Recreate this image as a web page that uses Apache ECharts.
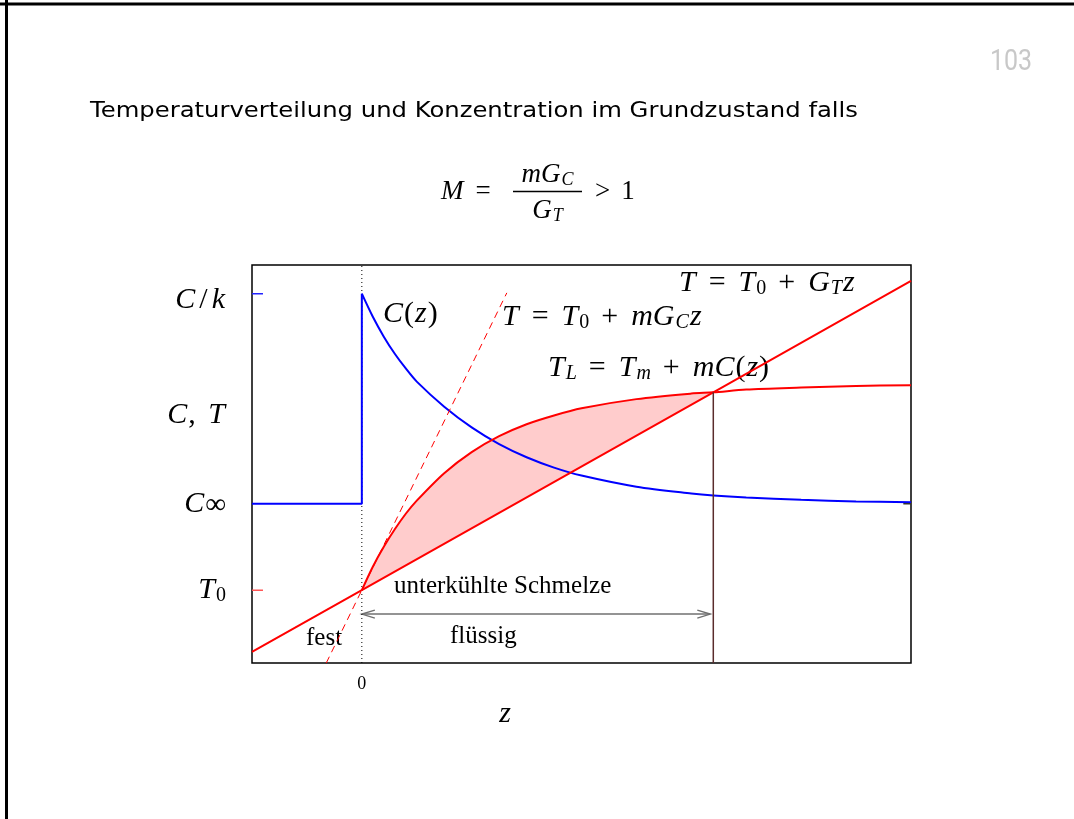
<!DOCTYPE html>
<html>
<head>
<meta charset="utf-8">
<script src="https://cdn.jsdelivr.net/npm/echarts@6/dist/echarts.min.js"></script>
<style>
  html, body { margin: 0; padding: 0; background: #fff; }
  #chart { width: 1074px; height: 819px; }
</style>
</head>
<body>
<div id="chart"></div>
<script>
// Axis ranges (arbitrary units for z and for C, T)
const zRange = [-1, 5];
const yRange = [0, 10];

// Concentration C(z): constant in the solid, jump to C/k at the interface, decay in the melt
const zSolid = [-1, 0, 0];
const cSolid = [4.0, 4.0, 9.28];
const zLiquid = [0, 0.1, 0.2, 0.3, 0.4, 0.5, 0.75, 1, 1.25, 1.5, 1.75, 2, 2.5, 3, 3.2, 3.5, 4, 4.5, 5];
const cLiquid = [9.28, 8.70, 8.20, 7.77, 7.40, 7.07, 6.44, 5.92, 5.50, 5.17, 4.91, 4.71, 4.43, 4.26, 4.21, 4.16, 4.10, 4.06, 4.04];

// Liquidus temperature T_L = T_m + m C(z)
const tLiquidus = [1.83, 2.42, 2.92, 3.36, 3.75, 4.08, 4.77, 5.30, 5.70, 6.00, 6.22, 6.40, 6.63, 6.77, 6.80, 6.87, 6.92, 6.96, 6.98];

// Imposed temperature T = T0 + G_T z
const zGradT = [-1, 0, 3.2, 5];
const tGradT = [0.28, 1.83, 6.80, 9.60];

// Critical gradient T = T0 + m G_C z
const zGradC = [-0.324, 1.32];
const tGradC = [0, 9.30];

// Edge of the undercooled zone and the arrow spanning it
const zFront = [3.2, 3.2];
const tFront = [0, 6.80];
const zArrow = [0, 3.2];
const arrowLevel = 1.23;

// Tick marks and axis labels
const T0 = 1.83, C_INF = 4.0, C_K = 9.28;
const yLabelValues = [1.83, 4.0, 6.23, 9.12];
const yLabelTexts = ['{i|T}{s0|0}', '{i|C}{inf|∞}', '{i|C}{r|,}{sp| }{i|T}', '{i|C}{sl|/}{i|k}'];
const xLabelValues = [0];
const xLabelTexts = ['0'];

const pairs = (xs, ys) => xs.map((x, i) => [x, ys[i]]);

const serif = '"Liberation Serif", "DejaVu Serif", serif';
function mathRich(size) {
  const sub = Math.round(size * 0.68);
  const pad = Math.round(size * 0.4);
  return {
    i:   { fontFamily: serif, fontStyle: 'italic', fontSize: size, lineHeight: size + 2, color: '#000', padding: [0, 1, 0, 1] },
    r:   { fontFamily: serif, fontSize: size, lineHeight: size + 2, color: '#000' },
    sp:  { fontFamily: serif, fontSize: size, lineHeight: size + 2, color: '#000', padding: [0, 4, 0, 0] },
    sl:  { fontFamily: serif, fontSize: size, lineHeight: size + 2, color: '#000', padding: [0, 3, 0, 3] },
    op:  { fontFamily: serif, fontSize: size, lineHeight: size + 2, color: '#000', padding: [0, pad, 0, pad] },
    s:   { fontFamily: serif, fontStyle: 'italic', fontSize: sub, lineHeight: Math.round(size * 0.5), verticalAlign: 'bottom', color: '#000' },
    s0:  { fontFamily: serif, fontSize: sub, lineHeight: Math.round(size * 0.5), verticalAlign: 'bottom', color: '#000' },
    inf: { fontFamily: serif, fontSize: Math.round(size * 0.95), lineHeight: Math.round(size * 0.35), verticalAlign: 'bottom', color: '#000' }
  };
}
const richLabel = mathRich(30);
const richFormula = mathRich(27);

function mathText(x, y, text, rich, align) {
  return { type: 'text', x: x, y: y, silent: true,
    style: { text: text, rich: rich, align: align || 'left', verticalAlign: 'middle' } };
}
function plainText(x, y, text, size, align) {
  return { type: 'text', x: x, y: y, silent: true,
    style: { text: text, fontFamily: serif, fontSize: size, fill: '#000', align: align || 'left', verticalAlign: 'middle' } };
}

const chart = echarts.init(document.getElementById('chart'), null, { renderer: 'canvas' });

const option = {
  animation: false,
  backgroundColor: '#fff',
  grid: { left: 252, top: 265, width: 659, height: 398, show: true, borderColor: '#000', borderWidth: 1.5, backgroundColor: 'transparent', outerBoundsMode: 'none' },
  xAxis: {
    type: 'value', min: zRange[0], max: zRange[1],
    axisLine: { show: false }, axisTick: { show: false }, splitLine: { show: false },
    axisLabel: { customValues: xLabelValues, formatter: v => xLabelTexts[xLabelValues.indexOf(v)],
      fontFamily: serif, fontSize: 18, color: '#000', margin: 12 }
  },
  yAxis: {
    type: 'value', min: yRange[0], max: yRange[1],
    axisLine: { show: false }, axisTick: { show: false }, splitLine: { show: false },
    axisLabel: { customValues: yLabelValues, formatter: v => yLabelTexts[yLabelValues.indexOf(v)],
      rich: richLabel, margin: 26 }
  },
  series: [
    { // undercooled region between T_L and T
      type: 'custom', silent: true, data: [[0, 0]],
      renderItem: (params, api) => {
        const pts = [];
        zLiquid.forEach((z, i) => { if (z <= zFront[0]) pts.push(api.coord([z, tLiquidus[i]])); });
        return { type: 'polygon', shape: { points: pts }, style: { fill: '#ffcccc', stroke: null } };
      }
    },
    { // interface position z = 0
      type: 'line', data: [[0, yRange[0]], [0, yRange[1]]], symbol: 'none', silent: true,
      lineStyle: { color: '#000', width: 1, type: [1, 3] }
    },
    { type: 'line', data: pairs(zSolid, cSolid), symbol: 'none', lineStyle: { color: '#0000ff', width: 2 } },
    { type: 'line', data: pairs(zLiquid, cLiquid), symbol: 'none', smooth: 0.3, lineStyle: { color: '#0000ff', width: 2 } },
    { type: 'line', data: pairs(zGradC, tGradC), symbol: 'none', lineStyle: { color: '#ff0000', width: 1, type: [7, 5] } },
    { type: 'line', data: pairs(zGradT, tGradT), symbol: 'none', lineStyle: { color: '#ff0000', width: 2 } },
    { type: 'line', data: pairs(zLiquid, tLiquidus), symbol: 'none', smooth: 0.3, lineStyle: { color: '#ff0000', width: 2 } },
    { type: 'line', data: pairs(zFront, tFront), symbol: 'none', lineStyle: { color: '#5a2c2c', width: 1.5 } },
    { // tick marks
      type: 'line', data: [[zRange[0], C_K], [zRange[0] + 0.1, C_K]], symbol: 'none', lineStyle: { color: '#2222ff', width: 1.5 } },
    { type: 'line', data: [[zRange[0], T0], [zRange[0] + 0.1, T0]], symbol: 'none', lineStyle: { color: '#ff5555', width: 1.5 } },
    { type: 'line', data: [[zRange[1] - 0.07, C_INF], [zRange[1], C_INF]], symbol: 'none', lineStyle: { color: '#333', width: 1.5 } },
    { // double arrow across the undercooled melt
      type: 'custom', silent: true, data: [[zArrow[0], zArrow[1], arrowLevel]],
      encode: { x: [0, 1], y: 2 },
      renderItem: (params, api) => {
        const a = api.coord([api.value(0), api.value(2)]);
        const b = api.coord([api.value(1), api.value(2)]);
        const h = 13, w = 4;
        const st = { stroke: '#707070', lineWidth: 1.4, fill: null };
        return { type: 'group', children: [
          { type: 'line', shape: { x1: a[0], y1: a[1], x2: b[0] - 3, y2: b[1] }, style: st },
          { type: 'polyline', shape: { points: [[a[0] + h, a[1] - w], [a[0], a[1]], [a[0] + h, a[1] + w]] }, style: st },
          { type: 'polyline', shape: { points: [[b[0] - 3 - h, b[1] - w], [b[0] - 3, b[1]], [b[0] - 3 - h, b[1] + w]] }, style: st }
        ] };
      }
    }
  ],
  graphic: [
    // slide frame
    { type: 'line', shape: { x1: 0, y1: 4, x2: 1074, y2: 4 }, style: { stroke: '#000', lineWidth: 3 }, silent: true },
    { type: 'line', shape: { x1: 6.5, y1: 0, x2: 6.5, y2: 819 }, style: { stroke: '#000', lineWidth: 3 }, silent: true },
    // page number
    { type: 'text', x: 990, y: 63, scaleX: 0.86, silent: true,
      style: { text: '103', fontFamily: 'Roboto, "DejaVu Sans", sans-serif', fontSize: 29, fill: '#c8c8c8', verticalAlign: 'middle' } },
    // heading
    { type: 'text', x: 90, y: 112, scaleX: 1.157, silent: true,
      style: { text: 'Temperaturverteilung und Konzentration im Grundzustand falls', fontFamily: '"DejaVu Sans", sans-serif', fontSize: 21, fill: '#000', verticalAlign: 'middle' } },
    // M = m G_C / G_T > 1
    mathText(440, 192, '{i|M}{op|=}', richFormula),
    mathText(547, 175, '{i|mG}{s|C}', richFormula, 'center'),
    { type: 'line', shape: { x1: 513, y1: 191.5, x2: 582, y2: 191.5 }, style: { stroke: '#000', lineWidth: 1.3 }, silent: true },
    mathText(547, 211, '{i|G}{s|T}', richFormula, 'center'),
    mathText(584, 192, '{op|>}{r|1}', richFormula),
    // curve annotations
    mathText(382, 314, '{i|C}{r|(}{i|z}{r|)}', richLabel),
    mathText(501, 317, '{i|T}{op|=}{i|T}{s0|0}{op|+}{i|mG}{s|C}{i|z}', richLabel),
    mathText(678, 283, '{i|T}{op|=}{i|T}{s0|0}{op|+}{i|G}{s|T}{i|z}', richLabel),
    mathText(547, 368, '{i|T}{s|L}{op|=}{i|T}{s|m}{op|+}{i|mC}{r|(}{i|z}{r|)}', richLabel),
    plainText(394, 586, 'unterkühlte Schmelze', 25),
    plainText(306, 638, 'fest', 25),
    plainText(450, 636, 'flüssig', 25),
    mathText(505, 714, '{i|z}', richLabel, 'center')
  ]
};
chart.setOption(option);
</script>
</body>
</html>
